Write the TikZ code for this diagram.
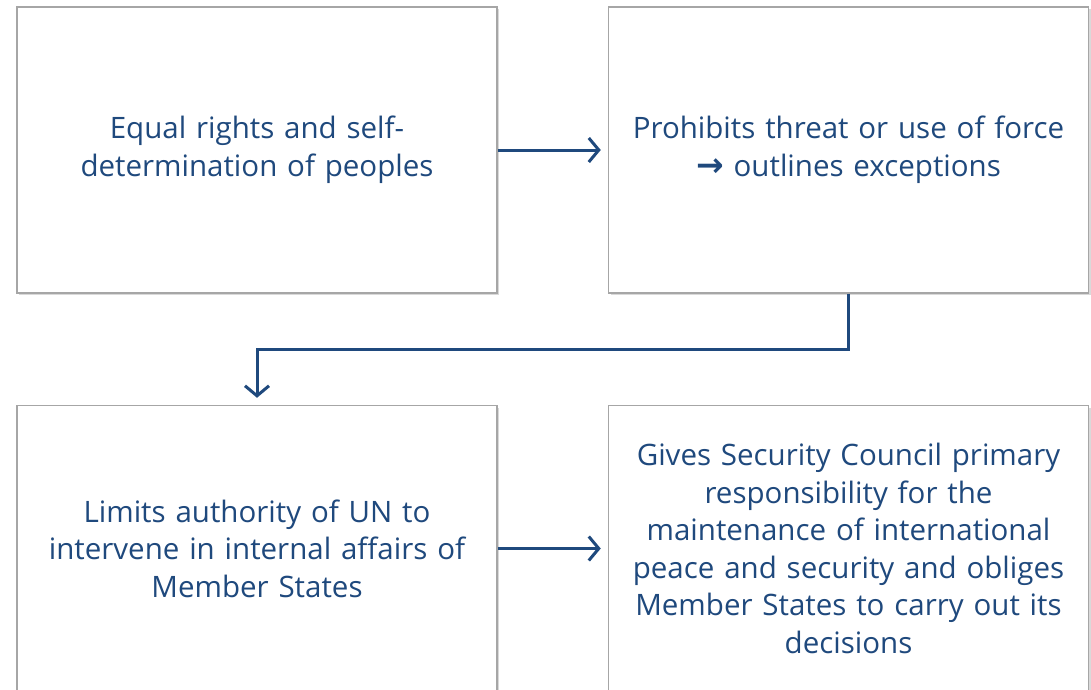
\documentclass[tikz,border=0pt]{standalone}
\usepackage{fontspec}
\setmainfont{Open Sans}
\newfontfamily\arrowfont{DejaVu Sans}
\usetikzlibrary{positioning,arrows.meta,shadows,calc}
\definecolor{unblue}{HTML}{1F497D}
\definecolor{boxgray}{HTML}{A6A6A6}
\tikzset{
  infobox/.style={draw=boxgray, line width=1.5pt, fill=white, minimum width=480pt, minimum height=286pt,
    text width=470pt, align=center, text=unblue, font=\fontsize{29.5}{37.5}\selectfont,
    drop shadow={opacity=0.3, shadow xshift=2pt, shadow yshift=-2pt}},
  flow/.style={draw=unblue, line width=3pt, -{Straight Barb[length=10pt,width=24pt]}, shorten >=7pt}
}
\begin{document}
\begin{tikzpicture}[x=1pt, y=1pt]
    \useasboundingbox (0,0) rectangle (1091,-689);
    \node[infobox] (rights) at (257,-150) {Equal rights and self-\\determination of peoples};
    \node[infobox, right=110pt of rights] (force) {Prohibits threat or use of force\\{\arrowfont\bfseries\fontsize{33}{37.5}\selectfont →} outlines exceptions};
    \node[infobox, below=111pt of rights] (limits) {Limits authority of UN to\\intervene in internal affairs of\\Member States};
    \node[infobox, below=111pt of force] (council) {Gives Security Council primary\\responsibility for the\\maintenance of international\\peace and security and obliges\\Member States to carry out its\\decisions};
    % connectors
    \coordinate (mid) at ($(force.south)!0.5!(limits.north)$);
    \draw[flow] (rights) -- (force);
    \draw[flow] (force.south) |- (mid) -| (limits.north);
    \draw[flow] (limits) -- (council);
\end{tikzpicture}
\end{document}
